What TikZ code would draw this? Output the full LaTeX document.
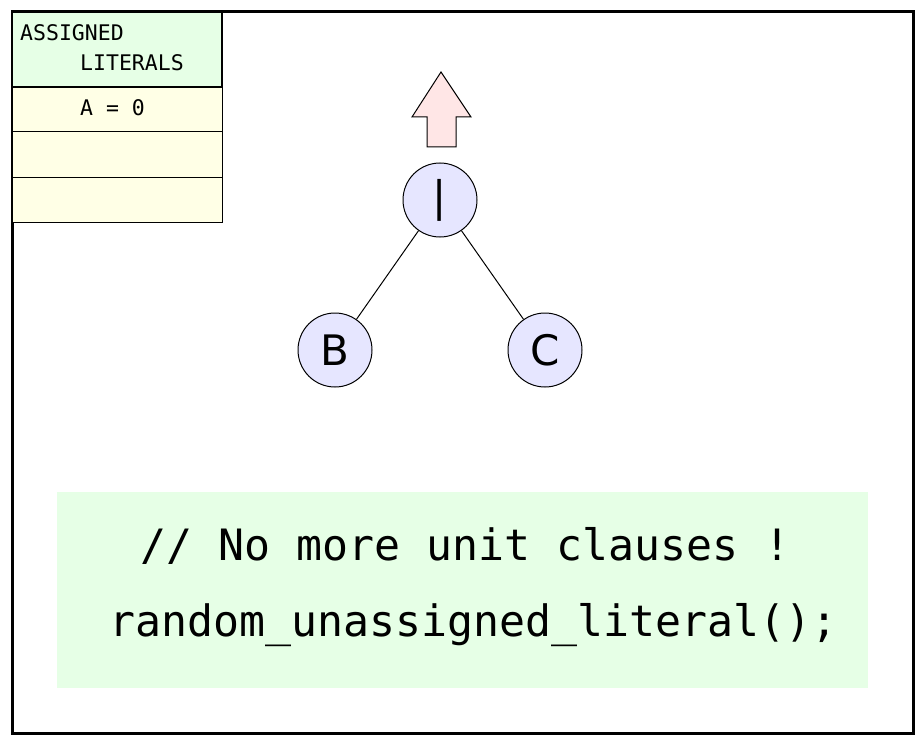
\documentclass[tikz,border=0pt]{standalone}
\usepackage{fontspec}
\setmonofont{DejaVu Sans Mono}
\newfontfamily\circfont{DejaVu Sans}
\definecolor{hdrgreen}{HTML}{E6FFE6}
\definecolor{rowyellow}{HTML}{FFFFE6}
\definecolor{nodeblue}{HTML}{E6E6FF}
\definecolor{arrowpink}{HTML}{FFE6E6}
\begin{document}
\begin{tikzpicture}[x=1pt,y=-1pt,
  vnode/.style={circle,draw=black,fill=nodeblue,line width=1pt,minimum size=74pt,inner sep=0pt,font=\circfont\fontsize{42}{46}\selectfont},
  rowbox/.style={draw=black,fill=rowyellow,line width=1pt},
  smalltxt/.style={inner sep=0pt,anchor=base west,font=\ttfamily\fontsize{21.5}{24}\selectfont},
  codetxt/.style={inner sep=0pt,anchor=base west,font=\ttfamily\fontsize{43.2}{48}\selectfont},
  edge/.style={line width=1pt}]
\useasboundingbox (0,0) rectangle (921,741);
\fill[white] (0,0) rectangle (921,741);
% outer frame
\draw[line width=3pt] (12,12) rectangle (913,733);
% table
\draw[rowbox] (12,87) rectangle (222,132);
\draw[rowbox] (12,132) rectangle (222,177);
\draw[rowbox] (12,177) rectangle (222,222);
\draw[fill=hdrgreen,line width=2pt] (12,12) rectangle (222,87);
\node[smalltxt] (h1) at (20,41) {ASSIGNED};
\node[smalltxt] (h2) at (80,71) {LITERALS};
\node[smalltxt] (r1) at (80,116) {A = 0};
% up arrow
\draw[fill=arrowpink,line width=1pt] (441,72) -- (471,117) -- (456,117) -- (456,147) -- (427,147) -- (427,117) -- (412,117) -- cycle;
% nodes
\node[vnode] (or) at (440,200) {|};
\node[vnode] (b) at (335,350) {B};
\node[vnode] (c) at (545,350) {C};
\draw[edge] (or) -- (b);
\draw[edge] (or) -- (c);
% code box
\fill[hdrgreen] (57,492) rectangle (868,688);
\node[codetxt] (l1) at (140,560) {// No more unit clauses !};
\node[codetxt] (l2) at (109,636) {random\_unassigned\_literal();};
\end{tikzpicture}
\end{document}
